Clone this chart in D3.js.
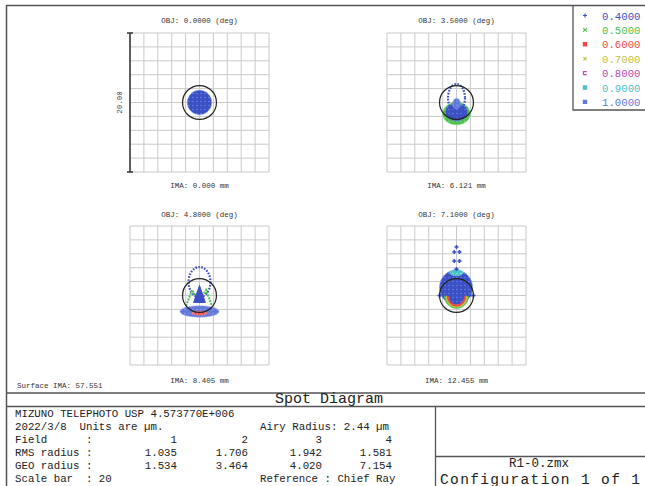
<!DOCTYPE html>
<html><head><meta charset="utf-8">
<script src="https://cdn.jsdelivr.net/npm/d3@7"></script>
<style>
html,body{margin:0;padding:0;background:#fff;}
svg{display:block;}
text{font-family:"Liberation Mono","DejaVu Sans Mono",monospace;white-space:pre;}
</style></head><body>
<svg id="chart" width="645" height="486"></svg>
<script>
// ---- report values ----
const fieldAngles = ["0.0000", "3.5000", "4.8000", "7.1000"];
const imageHeights = ["0.000", "6.121", "8.405", "12.455"];
const wavelengths = ["0.4000", "0.5000", "0.6000", "0.7000", "0.8000", "0.9000", "1.0000"];
const rmsRadius = ["1.035", "1.706", "1.942", "1.581"];
const geoRadius = ["1.534", "3.464", "4.020", "7.154"];
const airyRadius = 2.44;      // µm
const scaleBar = 20;          // µm, full width of each plot box
const surfaceIma = "57.551";
const lensTitle = "MIZUNO TELEPHOTO USP 4.573770E+006";
const reportDate = "2022/3/8";
const fileName = "R1-0.zmx";

// ---- ray footprints, µm relative to the chief ray (x right, y up) ----
// filled ray clusters: [field, wave, cx, cy, rx, ry]
const spotClusters = [
  [0, 0, 0.00, 0.00, 1.75, 1.75],
  [1, 1, 0.00, -1.60, 2.00, 1.62],
  [1, 0, 0.00, -1.40, 1.60, 1.25],
  [1, 6, 0.00, -0.15, 0.55, 0.75],
  [2, 6, 0.00, -2.30, 2.80, 0.82],
  [2, 2, 0.00, -2.55, 1.10, 0.28],
  [3, 0, -0.07, 1.15, 2.37, 2.50],
  [3, 5, 0.00, 3.30, 0.95, 0.45]
];
// open ray rings (dotted): [field, wave, cx, cy, rx, ry]
const spotRings = [
  [1, 0, 0.00, 0.65, 1.22, 2.00],
  [2, 0, 0.00, 1.94, 1.58, 2.16]
];
// lower half arcs of coloured rays: [field, wave, cx, cy, rx, ry]
const spotArcs = [
  [1, 0, 0.00, -1.25, 1.40, 1.05],
  [3, 1, 0.00, 0.00, 1.65, 1.75],
  [3, 3, 0.00, -0.05, 1.45, 1.55],
  [3, 2, 0.00, -0.10, 1.25, 1.35]
];
// ray traces: field, wave, fill?, points
const spotTraces = [
  {field: 2, wave: 1, fill: false, pts: [[-1.94, -1.51], [-1.08, 0.79], [-0.07, -0.79], [0.94, 0.79], [1.80, -1.51]]},
  {field: 2, wave: 0, fill: true,  pts: [[0.00, 1.45], [-0.85, -1.00], [0.85, -1.00]]},
  {field: 3, wave: 0, fill: false, pts: [[-2.50, 0.00], [-1.50, 0.00]]},
  {field: 3, wave: 0, fill: false, pts: [[1.50, 0.00], [2.50, 0.00]]}
];
// single stray rays: [field, wave, x, y]
const spotRays = [
  [3, 0, 0.00, 6.98], [3, 0, -0.32, 6.26], [3, 0, 0.43, 6.26],
  [3, 0, -0.32, 4.96], [3, 0, 0.43, 4.96], [3, 0, 0.00, 3.80],
  [3, 0, -2.45, 0.00], [3, 0, 2.45, 0.00]
];

const waveColors = ["#3c50c4", "#4cc24c", "#f04848", "#c2c244", "#b84ab8", "#4ac2c8", "#6478da"];
const waveLight  = ["#6a90e4", "#8ed88e", "#ff9a9a", "#e6e69a", "#e09ae0", "#9ae6ea", "#8fa4ee"];

// ---- drawing ----
const svg = d3.select("#chart");
const defs = svg.append("defs");
waveColors.forEach((c, i) => {
  const p = defs.append("pattern").attr("id", "tex" + i)
    .attr("patternUnits", "userSpaceOnUse").attr("width", 4).attr("height", 4);
  p.append("rect").attr("width", 4).attr("height", 4).attr("fill", c);
  p.append("path").attr("d", "M1,0.5V2.5M0,1.5H2").attr("stroke", waveLight[i])
    .attr("stroke-width", 0.8).attr("stroke-opacity", 0.55);
});
defs.append("filter").attr("id", "soft").append("feGaussianBlur").attr("stdDeviation", 0.5);

const frameColor = "#555";
// outer frame
svg.append("line").attr("x1", 6.5).attr("x2", 6.5).attr("y1", 5).attr("y2", 486).attr("stroke", frameColor).attr("stroke-width", 1.5);
svg.append("line").attr("x1", 6).attr("x2", 645).attr("y1", 5.5).attr("y2", 5.5).attr("stroke", frameColor).attr("stroke-width", 1.5);

// plot boxes
const boxSize = 139;
const boxOrigins = [[130, 33], [387, 33], [130, 226], [387, 226]];
const labelY = [[23, 188], [23, 188], [217, 383], [217, 383]];

boxOrigins.forEach(([bx, by], f) => {
  const x = d3.scaleLinear().domain([-scaleBar / 2, scaleBar / 2]).range([bx, bx + boxSize]);
  const y = d3.scaleLinear().domain([-scaleBar / 2, scaleBar / 2]).range([by + boxSize, by]);
  const g = svg.append("g");
  const ticks = d3.range(-10, 10.001, 2);
  g.selectAll(".gv").data(ticks).join("line")
    .attr("x1", d => x(d)).attr("x2", d => x(d)).attr("y1", y(-10)).attr("y2", y(10))
    .attr("stroke", "#c9c9c9").attr("stroke-width", 1);
  g.selectAll(".gh").data(ticks).join("line")
    .attr("y1", d => y(d)).attr("y2", d => y(d)).attr("x1", x(-10)).attr("x2", x(10))
    .attr("stroke", "#c9c9c9").attr("stroke-width", 1);

  const sx = d => x(d) - x(0);
  const sy = d => y(0) - y(d);
  const spots = g.append("g").attr("filter", "url(#soft)");

  spotClusters.filter(d => d[0] === f).forEach(d => {
    spots.append("ellipse").attr("cx", x(d[2])).attr("cy", y(d[3]))
      .attr("rx", sx(d[4])).attr("ry", sy(d[5]))
      .attr("fill", "url(#tex" + d[1] + ")")
      .attr("stroke", waveLight[d[1]]).attr("stroke-width", 1).attr("stroke-dasharray", "1.5,1");
  });
  spotRings.filter(d => d[0] === f).forEach(d => {
    spots.append("ellipse").attr("cx", x(d[2])).attr("cy", y(d[3]))
      .attr("rx", sx(d[4])).attr("ry", sy(d[5])).attr("fill", "none")
      .attr("stroke", waveColors[d[1]]).attr("stroke-width", 2.2).attr("stroke-dasharray", "1.6,1.4");
  });
  spotArcs.filter(d => d[0] === f).forEach(d => {
    const cx = x(d[2]), cy = y(d[3]), rx = sx(d[4]), ry = sy(d[5]);
    spots.append("path")
      .attr("d", `M${cx - rx},${cy} A${rx},${ry} 0 0 0 ${cx + rx},${cy}`)
      .attr("fill", "none").attr("stroke", waveColors[d[1]]).attr("stroke-width", 2);
  });
  const line = d3.line().x(p => x(p[0])).y(p => y(p[1]));
  spotTraces.filter(d => d.field === f).forEach(d => {
    spots.append("path").attr("d", line(d.pts) + (d.fill ? "Z" : ""))
      .attr("fill", d.fill ? waveColors[d.wave] : "none")
      .attr("stroke", waveColors[d.wave]).attr("stroke-width", d.fill ? 1 : 2)
      .attr("stroke-dasharray", d.fill ? null : "2,1");
  });
  spotRays.filter(d => d[0] === f).forEach(d => {
    spots.append("path").attr("transform", `translate(${x(d[2])},${y(d[3])})`)
      .attr("d", "M-2,0H2M0,-2V2").attr("stroke", waveColors[d[1]]).attr("stroke-width", 1.6);
  });

  // Airy disk
  g.append("circle").attr("cx", x(0)).attr("cy", y(0))
    .attr("r", sx(airyRadius)).attr("fill", "none").attr("stroke", "#222").attr("stroke-width", 1.2);

  g.append("text").attr("x", x(0)).attr("y", labelY[f][0]).attr("text-anchor", "middle")
    .attr("font-size", "7.5px").attr("fill", "#333").text(`OBJ: ${fieldAngles[f]} (deg)`);
  g.append("text").attr("x", x(0)).attr("y", labelY[f][1]).attr("text-anchor", "middle")
    .attr("font-size", "7.5px").attr("fill", "#333").text(`IMA: ${imageHeights[f]} mm`);

  if (f === 0) {
    // scale bar
    const sb = g.append("g").attr("stroke", "#333").attr("stroke-width", 1.5);
    sb.append("line").attr("x1", x(-10)).attr("x2", x(-10)).attr("y1", y(10)).attr("y2", y(-10));
    sb.append("line").attr("x1", x(-10) - 3).attr("x2", x(-10) + 3).attr("y1", y(10)).attr("y2", y(10));
    sb.append("line").attr("x1", x(-10) - 3).attr("x2", x(-10) + 3).attr("y1", y(-10)).attr("y2", y(-10));
    g.append("text").attr("transform", `translate(${x(-10) - 8},${y(0)}) rotate(-90)`)
      .attr("text-anchor", "middle").attr("font-size", "7.5px").attr("fill", "#444")
      .text(scaleBar.toFixed(2));
  }
});

// legend
const lg = svg.append("g");
lg.append("path").attr("d", "M573,5V110H646").attr("fill", "none").attr("stroke", frameColor).attr("stroke-width", 1.3);
const markerPaths = [
  "M-2,0H2M0,-2V2",
  "M-1.8,-1.8L1.8,1.8M-1.8,1.8L1.8,-1.8",
  "M-1.6,-1.6H1.6V1.6H-1.6Z",
  "M-1.6,-1.6L1.6,1.6M-1.6,1.6L1.6,-1.6",
  "M-1.8,-1.5H1.8M-1.8,1.5H1.8M-1.6,-1.5V1.5",
  "M-1.6,-1.6H1.6V1.6H-1.6Z",
  "M-1.6,-1.6H1.6V1.6H-1.6Z"
];
wavelengths.forEach((w, i) => {
  const yy = 15.5 + i * 14.4;
  lg.append("path").attr("transform", `translate(585,${yy})`).attr("d", markerPaths[i])
    .attr("stroke", waveColors[i]).attr("stroke-width", 1.2).attr("fill", waveColors[i]);
  lg.append("text").attr("x", 602).attr("y", yy + 4).attr("font-size", "10.7px")
    .attr("fill", waveColors[i]).text(w);
});

// surface label
svg.append("text").attr("x", 17).attr("y", 388).attr("font-size", "7.5px").attr("fill", "#333")
  .text(`Surface IMA: ${surfaceIma}`);

// report block
const rule = (x1, y1, x2, y2) => svg.append("line").attr("x1", x1).attr("y1", y1).attr("x2", x2).attr("y2", y2)
  .attr("stroke", frameColor).attr("stroke-width", 1.3);
rule(6, 393, 645, 393);
rule(6, 406.5, 645, 406.5);
rule(435.5, 406.5, 435.5, 486);
rule(435.5, 456.5, 645, 456.5);

svg.append("text").attr("x", 329).attr("y", 403).attr("text-anchor", "middle")
  .attr("font-size", "15px").attr("fill", "#222").text("Spot Diagram");

const fs = "10.75px";
const rowY = d3.range(6).map(i => 417 + i * 13);
const txt = (x, yy, s, anchor) => svg.append("text").attr("x", x).attr("y", yy)
  .attr("text-anchor", anchor || "start").attr("font-size", fs).attr("fill", "#222").text(s);
txt(15, rowY[0], lensTitle);
txt(15, rowY[1], `${reportDate}  Units are \u00b5m.`);
txt(260, rowY[1], `Airy Radius: ${airyRadius.toFixed(2)} \u00b5m`);
const colRight = [177, 248, 322, 392];
txt(15, rowY[2], "Field      :");
fieldAngles.forEach((_, i) => txt(colRight[i], rowY[2], String(i + 1), "end"));
txt(15, rowY[3], "RMS radius :");
rmsRadius.forEach((v, i) => txt(colRight[i], rowY[3], v, "end"));
txt(15, rowY[4], "GEO radius :");
geoRadius.forEach((v, i) => txt(colRight[i], rowY[4], v, "end"));
txt(15, rowY[5], `Scale bar  : ${scaleBar}`);
txt(260, rowY[5], "Reference : Chief Ray");

svg.append("text").attr("x", 539).attr("y", 467).attr("text-anchor", "middle")
  .attr("font-size", "12.5px").attr("fill", "#222").text(fileName);
svg.append("text").attr("x", 540).attr("y", 483.5).attr("text-anchor", "middle")
  .attr("font-size", "14.5px").attr("textLength", 200).attr("lengthAdjust", "spacing")
  .attr("fill", "#222").text("Configuration 1 of 1");
</script>
</body></html>
